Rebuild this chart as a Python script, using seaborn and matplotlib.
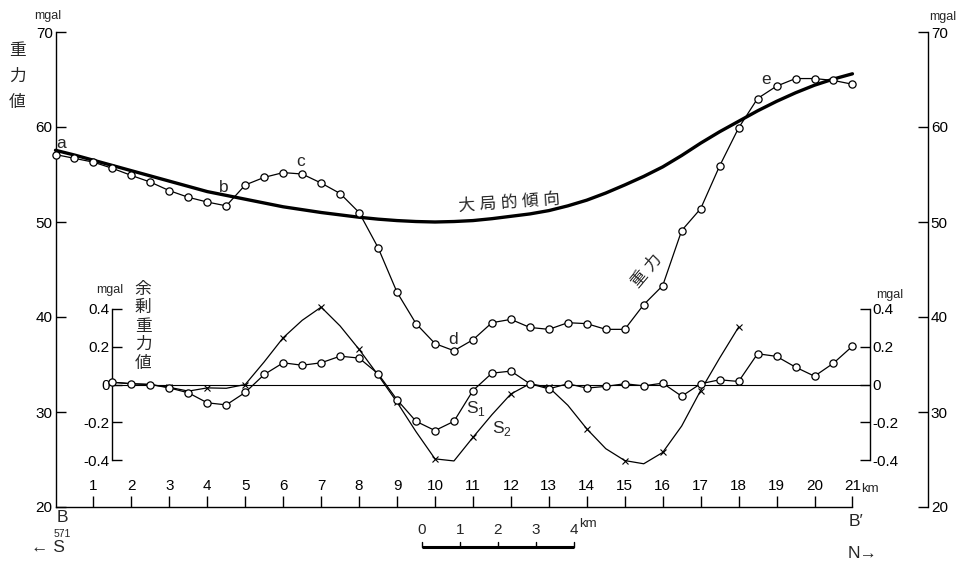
import matplotlib
matplotlib.use("Agg")
import matplotlib.pyplot as plt
import seaborn as sns

sns.set_style("ticks")
plt.rcParams["font.family"] = ["Liberation Sans", "DejaVu Sans", "Noto Sans CJK JP"]
plt.rcParams["axes.unicode_minus"] = False
plt.rcParams["axes.edgecolor"] = "black"
plt.rcParams["xtick.color"] = "black"
plt.rcParams["ytick.color"] = "black"

W, H = 966, 563

# ---- profile B-B' : stations every 0.5 km ----
station_km = [0.0, 0.5, 1.0, 1.5, 2.0, 2.5, 3.0, 3.5, 4.0, 4.5, 5.0, 5.5, 6.0, 6.5,
              7.0, 7.5, 8.0, 8.5, 9.0, 9.5, 10.0, 10.5, 11.0, 11.5, 12.0, 12.5, 13.0,
              13.5, 14.0, 14.5, 15.0, 15.5, 16.0, 16.5, 17.0, 17.5, 18.0, 18.5, 19.0,
              19.5, 20.0, 20.5, 21.0]
gravity = [57.1, 56.7, 56.3, 55.65, 54.9, 54.2, 53.3, 52.6, 52.1, 51.7, 53.9, 54.7,
           55.2, 55.05, 54.1, 53.0, 51.0, 47.3, 42.6, 39.3, 37.2, 36.45, 37.6, 39.4,
           39.75, 38.9, 38.7, 39.4, 39.3, 38.7, 38.7, 41.3, 43.3, 49.1, 51.4, 55.9,
           59.9, 63.0, 64.3, 65.1, 65.1, 64.9, 64.5]

# regional trend (大局的傾向)
trend_km = station_km
trend = [57.55, 57.05, 56.5, 55.95, 55.4, 54.85, 54.3, 53.75, 53.2, 52.8, 52.4, 52.0,
         51.6, 51.3, 51.0, 50.75, 50.5, 50.3, 50.15, 50.05, 50.0, 50.05, 50.15, 50.35,
         50.6, 50.85, 51.2, 51.7, 52.3, 53.05, 53.9, 54.8, 55.8, 57.0, 58.3, 59.5,
         60.6, 61.7, 62.7, 63.6, 64.4, 65.05, 65.6]

# residual gravity S1
resid_km = [1.5, 2.0, 2.5, 3.0, 3.5, 4.0, 4.5, 5.0, 5.5, 6.0, 6.5, 7.0, 7.5, 8.0, 8.5,
            9.0, 9.5, 10.0, 10.5, 11.0, 11.5, 12.0, 12.5, 13.0, 13.5, 14.0, 14.5, 15.0,
            15.5, 16.0, 16.5, 17.0, 17.5, 18.0, 18.5, 19.0, 19.5, 20.0, 20.5, 21.0]
resid_s1 = [0.012, 0.004, 0.0, -0.018, -0.044, -0.097, -0.108, -0.042, 0.053, 0.115,
            0.102, 0.115, 0.15, 0.14, 0.057, -0.081, -0.195, -0.244, -0.195, -0.032,
            0.06, 0.071, 0.004, -0.023, 0.004, -0.019, -0.01, 0.004, -0.007, 0.007,
            -0.062, 0.004, 0.025, 0.016, 0.163, 0.149, 0.092, 0.044, 0.113, 0.203]

# residual gravity S2
s2_km = [1.5, 2.0, 2.5, 3.0, 3.5, 4.0, 4.5, 5.0, 5.5, 6.0, 6.5, 7.0, 7.5, 8.0, 8.5,
         9.0, 9.5, 10.0, 10.5, 11.0, 11.5, 12.0, 12.5, 13.0, 13.5, 14.0, 14.5, 15.0,
         15.5, 16.0, 16.5, 17.0, 17.5, 18.0]
resid_s2 = [0.012, 0.004, 0.0, -0.015, -0.035, -0.018, -0.02, 0.0, 0.12, 0.248, 0.34,
            0.41, 0.31, 0.186, 0.05, -0.094, -0.25, -0.394, -0.405, -0.28, -0.16, -0.05,
            0.004, -0.015, -0.11, -0.235, -0.34, -0.403, -0.42, -0.36, -0.22, -0.032,
            0.14, 0.304]

km_ticks = list(range(1, 22))
grav_ticks = [20, 30, 40, 50, 60, 70]
resid_ticks = [-0.4, -0.2, 0.0, 0.2, 0.4]
resid_tick_labels = ["-0.4", "-0.2", "0", "0.2", "0.4"]
scale_km = [0, 1, 2, 3, 4]

# ---- layout (pixels) ----
X0, PX_PER_KM = 55.5, 37.95
AX_RIGHT = 928
Y_TOP, Y_BOT = 32, 507
TICK_FS = 11


def fx(px):
    return px / W


def fy(py):
    return 1 - py / H


fig = plt.figure(figsize=(W / 100, H / 100), dpi=100)
fig.patch.set_facecolor("white")

ax = fig.add_axes([fx(X0), fy(Y_BOT), (AX_RIGHT - X0) / W, (Y_BOT - Y_TOP) / H])
ax.set_facecolor("none")
ax.set_xlim(0, (AX_RIGHT - X0) / PX_PER_KM)
ax.set_ylim(20, 70)

sns.lineplot(x=trend_km, y=trend, ax=ax, color="black", lw=2.4, zorder=2,
             clip_on=False)
sns.lineplot(x=station_km, y=gravity, ax=ax, color="black", lw=0.9, marker="o",
             markersize=5.2, markerfacecolor="white", markeredgecolor="black",
             markeredgewidth=0.9, zorder=3, clip_on=False)

ax.spines["top"].set_visible(False)
for s in ["left", "right", "bottom"]:
    ax.spines[s].set_linewidth(1.0)
    ax.spines[s].set_color("black")
ax.spines["bottom"].set_bounds(0, 21)

ax.set_yticks(grav_ticks)
ax.set_yticklabels([str(v) for v in grav_ticks])
ax.yaxis.set_ticks_position("both")
ax.tick_params(axis="y", which="both", direction="in", length=7, width=1,
               labelleft=True, labelright=True, left=True, right=True,
               labelsize=TICK_FS, pad=2)
ax.set_xticks(km_ticks)
ax.set_xticklabels([str(v) for v in km_ticks])
ax.tick_params(axis="x", direction="in", length=8, width=1, labelsize=TICK_FS,
               pad=-20)
ax.set_xlabel("")
ax.set_ylabel("")

# scale bar
sb_y = 70 - (547 - Y_TOP) / 9.5
sb_x0 = (422 - X0) / PX_PER_KM
ax.plot([sb_x0, sb_x0 + scale_km[-1]], [sb_y, sb_y], color="black", lw=2.2,
        clip_on=False, solid_capstyle="butt")
for k in scale_km:
    ax.plot([sb_x0 + k, sb_x0 + k], [sb_y, sb_y + 0.55], color="black", lw=1,
            clip_on=False)
    ax.text(sb_x0 + k, sb_y + 1.0, str(k), ha="center", va="bottom", fontsize=TICK_FS)
ax.text(sb_x0 + scale_km[-1] + 0.15, sb_y + 1.8, "km", ha="left", va="bottom",
        fontsize=9.5)

# ---- residual gravity panel ----
R_LEFT, R_RIGHT, R_TOP, R_BOT = X0 + 1.5 * PX_PER_KM, 870, 309, 460
ax2 = fig.add_axes([fx(R_LEFT), fy(R_BOT), (R_RIGHT - R_LEFT) / W, (R_BOT - R_TOP) / H])
ax2.set_facecolor("none")
ax2.set_xlim(1.5, (R_RIGHT - X0) / PX_PER_KM)
ax2.set_ylim(-0.4, 0.4)
ax2.axhline(0, color="black", lw=0.8, zorder=1)

sns.lineplot(x=s2_km, y=resid_s2, ax=ax2, color="black", lw=0.9, marker="x",
             markersize=5, markeredgecolor="black", markeredgewidth=0.8,
             markevery=slice(3, None, 2), zorder=2, clip_on=False)
sns.lineplot(x=resid_km, y=resid_s1, ax=ax2, color="black", lw=0.9, marker="o",
             markersize=5.2, markerfacecolor="white", markeredgecolor="black",
             markeredgewidth=0.9, zorder=3, clip_on=False)

for s in ["top", "bottom"]:
    ax2.spines[s].set_visible(False)
for s in ["left", "right"]:
    ax2.spines[s].set_linewidth(1.0)
    ax2.spines[s].set_color("black")
ax2.set_xticks([])
ax2.set_yticks(resid_ticks)
ax2.set_yticklabels(resid_tick_labels)
ax2.yaxis.set_ticks_position("both")
ax2.tick_params(axis="y", direction="in", length=7, width=1, labelleft=True,
                labelright=True, left=True, right=True, labelsize=TICK_FS, pad=2)
ax2.set_xlabel("")
ax2.set_ylabel("")


# ---- annotations ----
def label(px, py, s, **kw):
    kw.setdefault("ha", "center")
    kw.setdefault("va", "center")
    kw.setdefault("fontsize", 11)
    fig.text(fx(px), fy(py), s, **kw)


label(48, 16, "mgal", fontsize=9)
label(943, 17, "mgal", fontsize=9)
label(110, 290, "mgal", fontsize=9)
label(890, 295, "mgal", fontsize=9)

for i, ch in enumerate("重力値"):
    label(17, 51 + i * 25.5, ch, fontsize=12)
for i, ch in enumerate("余剰重力値"):
    label(143, 289 + i * 18.5, ch, fontsize=12)

label(509, 203, "大 局 的 傾 向", fontsize=12, rotation=4)
label(647, 271, "重 力", fontsize=12, rotation=50)

label(61, 143, "a", fontsize=12.5)
label(224, 187, "b", fontsize=12.5)
label(301, 162, "c", fontsize=12.5)
label(453, 339, "d", fontsize=12.5)
label(766, 79, "e", fontsize=12.5)
label(476, 409, "S$_\\mathregular{1}$", fontsize=12.5)
label(502, 428, "S$_\\mathregular{2}$", fontsize=12.5)

label(870, 489, "km", fontsize=9.5)
label(62, 518, "B", fontsize=12.5)
label(856, 521, "B\u2032", fontsize=12.5)
label(62, 534, "571", fontsize=7.5)
label(31, 547, "\u2190 S", fontsize=12.5, ha="left")
label(848, 554, "N\u2192", fontsize=12.5, ha="left")

fig.savefig("out.png", dpi=100, facecolor="white")
